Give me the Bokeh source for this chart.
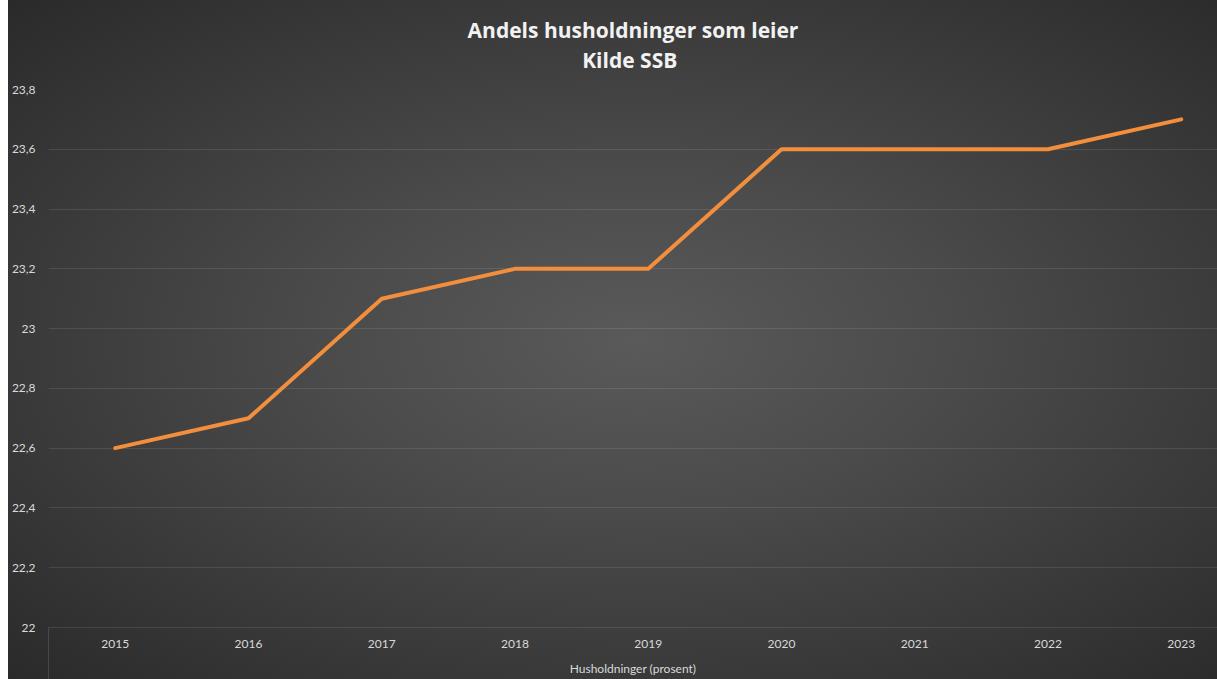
from bokeh.plotting import figure
from bokeh.models import FixedTicker, CustomJSTickFormatter, Range1d
from bokeh.embed import file_html
from bokeh.resources import INLINE

years = [2015, 2016, 2017, 2018, 2019, 2020, 2021, 2022, 2023]
share = [22.6, 22.7, 23.1, 23.2, 23.2, 23.6, 23.6, 23.6, 23.7]
y_ticks = [22.0, 22.2, 22.4, 22.6, 22.8, 23.0, 23.2, 23.4, 23.6, 23.8]
y_tick_labels = ["22", "22,2", "22,4", "22,6", "22,8", "23", "23,2", "23,4", "23,6", "23,8"]
title_lines = ["Andels husholdninger som leier", "Kilde SSB"]
series_name = "Husholdninger (prosent)"

TXT = "#d9d9d9"
GRID = "white"

x_range = Range1d(2014.499, 2023.272)
y_range = Range1d(22, 23.8)
p = figure(width=1209, height=679, output_backend="svg", toolbar_location=None,
           x_range=x_range, y_range=y_range,
           min_border_left=39, min_border_right=0, min_border_top=89, min_border_bottom=52)
p.margin = (0, 0, 0, 8)
p.background_fill_color = None
p.border_fill_color = None
p.outline_line_color = None
p.styles = {"background": "radial-gradient(ellipse farthest-corner at 52% 50%, #5a5a5a 0%, #4b4b4b 35%, #2a2a2a 100%)"}

# two-line title (second line padded with no-break spaces so it sits centred)
p.title.text = title_lines[0] + "\n" + "\u00a0" * 21 + title_lines[1]
p.title.align = "center"
p.title.vertical_align = "top"
p.title.text_font = "Open Sans"
p.title.text_font_size = "21px"
p.title.text_font_style = "bold"
p.title.text_color = "#f2f2f2"
p.title.text_line_height = 1.08
p.title.standoff = 28

# grid
p.xgrid.grid_line_color = None
p.ygrid.ticker = FixedTicker(ticks=y_ticks)
p.ygrid.grid_line_color = GRID
p.ygrid.grid_line_alpha = 0.1

# y axis
p.yaxis.ticker = FixedTicker(ticks=y_ticks)
p.yaxis.formatter = CustomJSTickFormatter(args=dict(yvals=y_ticks, ylabs=y_tick_labels), code="""
const i = yvals.findIndex(t => Math.abs(t - tick) < 1e-6);
return i >= 0 ? ylabs[i] : '';
""")
p.yaxis.axis_line_color = None
p.yaxis.major_tick_line_color = None
p.yaxis.minor_tick_line_color = None
p.yaxis.major_tick_out = 0
p.yaxis.minor_tick_out = 0
p.yaxis.major_label_standoff = 13
p.yaxis.major_label_text_font = "Lato"
p.yaxis.major_label_text_font_size = "12px"
p.yaxis.major_label_text_color = TXT

# x axis
p.xaxis.ticker = FixedTicker(ticks=years, minor_ticks=[2014.5])
p.xaxis.axis_line_color = GRID
p.xaxis.axis_line_alpha = 0.1
p.xaxis.major_tick_line_color = None
p.xaxis.major_tick_out = 0
p.xaxis.minor_tick_line_color = GRID
p.xaxis.minor_tick_line_alpha = 0.12
p.xaxis.minor_tick_in = 0
p.xaxis.minor_tick_out = 52
p.xaxis.major_label_standoff = -40
p.xaxis.major_label_text_font = "Lato"
p.xaxis.major_label_text_font_size = "12px"
p.xaxis.major_label_text_color = TXT
p.xaxis.axis_label = series_name
p.xaxis.axis_label_standoff = 10
p.xaxis.axis_label_text_font = "Lato"
p.xaxis.axis_label_text_font_size = "12px"
p.xaxis.axis_label_text_font_style = "normal"
p.xaxis.axis_label_text_color = TXT

p.line(years, share, line_color="#F28E3C", line_width=4, line_join="round", line_cap="round")

open("out.html", "w").write(file_html(p, INLINE))
